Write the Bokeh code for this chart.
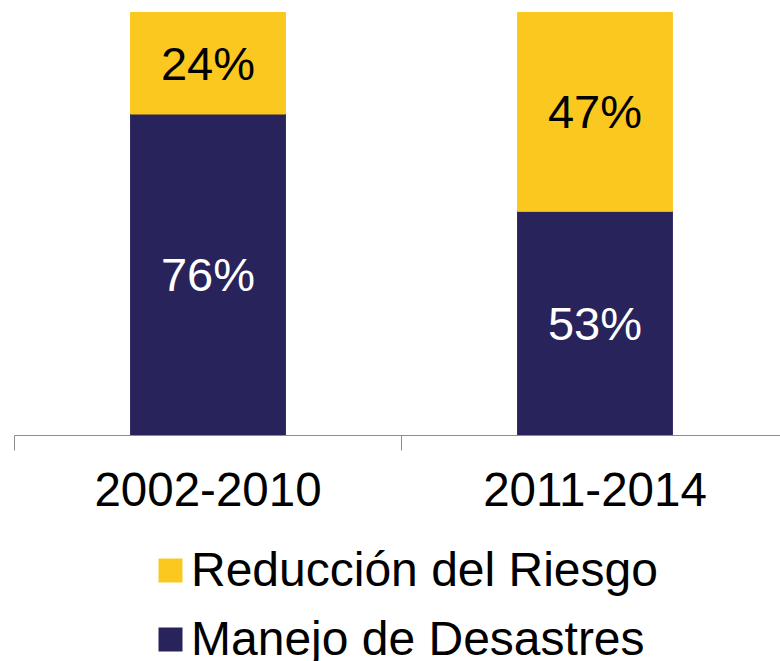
from bokeh.plotting import figure
from bokeh.layouts import column
from bokeh.models import Range1d, FixedTicker, Legend, LegendItem, ColumnDataSource, LinearAxis
from bokeh.core.properties import value
from bokeh.embed import file_html
from bokeh.resources import INLINE

periods = ["2002-2010", "2011-2014"]
manejo = [76, 53]
reduccion = [24, 47]
series_names = ["Reducción del Riesgo", "Manejo de Desastres"]

NAVY = "#29235C"
GOLD = "#FBC81F"
GRAY = "#8C8C8C"
FONT = "Liberation Sans"

xpos = [i + 0.5 for i in range(len(periods))]
src = ColumnDataSource(dict(
    x=xpos,
    manejo=manejo,
    top=[m + r for m, r in zip(manejo, reduccion)],
    mid_m=[m / 2 for m in manejo],
    mid_r=[m + r / 2 for m, r in zip(manejo, reduccion)],
    lab_m=[f"{m}%" for m in manejo],
    lab_r=[f"{r}%" for r in reduccion],
))

# ---- main chart ----
p = figure(frame_width=766, frame_height=435,
           output_backend="svg", toolbar_location=None,
           x_range=Range1d(0, 766 / 387), y_range=Range1d(0, 102.84),
           x_axis_type=None, y_axis_type=None,
           min_border_left=14, min_border_right=0, min_border_top=0,
           min_border_bottom=100)
p.grid.visible = False
p.outline_line_color = None

r_man = p.vbar(x="x", bottom=0, top="manejo", width=0.4, source=src,
               fill_color=NAVY, line_color=NAVY)
r_red = p.vbar(x="x", bottom="manejo", top="top", width=0.4, source=src,
               fill_color=GOLD, line_color=GOLD)

p.text(x="x", y="mid_m", text="lab_m", source=src, text_align="center",
       text_baseline="middle", text_color="white",
       text_font=value(FONT), text_font_size="47px")
p.text(x="x", y="mid_r", text="lab_r", source=src, text_align="center",
       text_baseline="middle", text_color="black",
       text_font=value(FONT), text_font_size="47px")

ax = LinearAxis(ticker=FixedTicker(ticks=xpos, minor_ticks=[float(i) for i in range(len(periods) + 1)]),
                major_label_overrides={x: lab for x, lab in zip(xpos, periods)})
ax.axis_line_color = GRAY
ax.axis_line_width = 1
ax.major_tick_line_color = None
ax.major_tick_out = 0
ax.major_tick_in = 0
ax.minor_tick_line_color = GRAY
ax.minor_tick_in = 0
ax.minor_tick_out = 15
ax.major_label_standoff = 22
ax.major_label_text_font = FONT
ax.major_label_text_font_size = "47.5px"
ax.major_label_text_color = "black"
p.add_layout(ax, "below")

# ---- legend strip ----
p2 = figure(width=780, height=126, output_backend="svg", toolbar_location=None,
            x_range=Range1d(-20, -19), y_range=Range1d(0, 1),
            x_axis_type=None, y_axis_type=None,
            min_border_left=0, min_border_right=0, min_border_top=0, min_border_bottom=0)
p2.grid.visible = False
p2.outline_line_color = None
l_red = p2.vbar(x="x", bottom="manejo", top="top", width=0.4, source=src,
                fill_color=GOLD, line_color=None)
l_man = p2.vbar(x="x", bottom=0, top="manejo", width=0.4, source=src,
                fill_color=NAVY, line_color=None)

legend = Legend(items=[LegendItem(label=series_names[0], renderers=[l_red]),
                       LegendItem(label=series_names[1], renderers=[l_man])],
                orientation="vertical", location=(141, -5),
                label_text_font=FONT, label_text_font_size="48px",
                label_text_color="black",
                glyph_width=30, glyph_height=30, label_standoff=6,
                label_height=24, spacing=14, padding=0, margin=0,
                border_line_color=None, background_fill_color=None)
p2.add_layout(legend, "center")

layout = column(p, p2, spacing=0)
open("out.html", "w").write(file_html(layout, INLINE))
